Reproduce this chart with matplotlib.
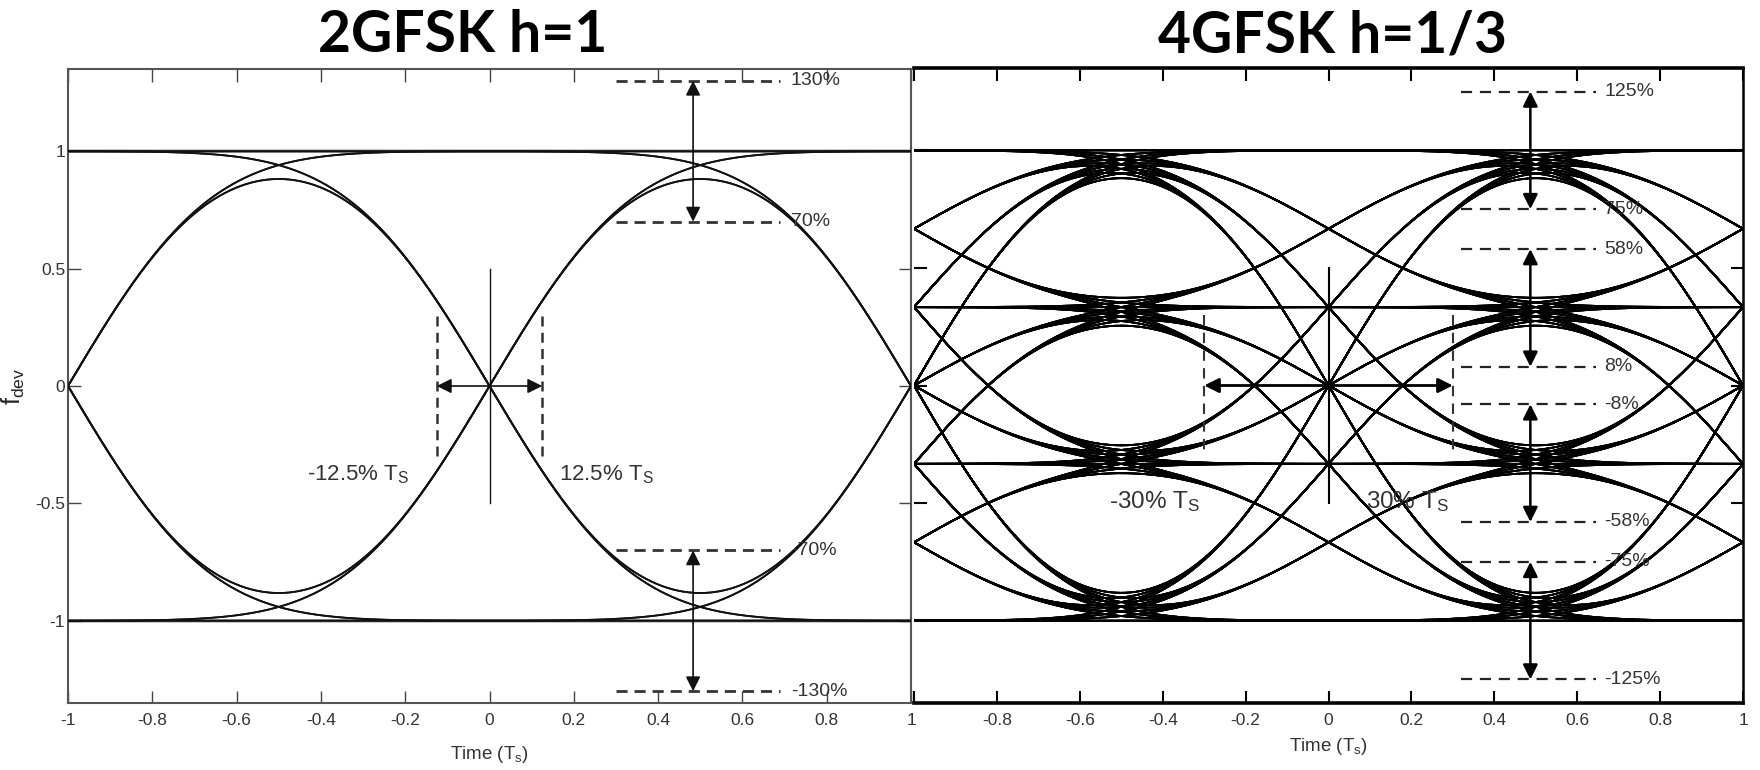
import math
import itertools
import numpy as np
import matplotlib
matplotlib.use('Agg')
import matplotlib.pyplot as plt
from matplotlib import font_manager

# ---------------- data ----------------
titles = ['2GFSK h=1', '4GFSK h=1/3']
bt_product = 0.5
levels_2gfsk = [-1.0, 1.0]
levels_4gfsk = [-1.0, -1.0 / 3, 1.0 / 3, 1.0]
symbol_times = [-1.5, -0.5, 0.5, 1.5]

x_ticks = [-1, -0.8, -0.6, -0.4, -0.2, 0, 0.2, 0.4, 0.6, 0.8, 1]
x_ticklabels = ['-1', '-0.8', '-0.6', '-0.4', '-0.2', '0', '0.2', '0.4', '0.6', '0.8', '1']
x_ticklabels_right = ['', '-0.8', '-0.6', '-0.4', '-0.2', '0', '0.2', '0.4', '0.6', '0.8', '1']
y_ticks = [-1, -0.5, 0, 0.5, 1]
y_ticklabels = ['-1', '-0.5', '0', '0.5', '1']

left_limits = [1.3, 0.7, -0.7, -1.3]
left_limit_labels = ['130%', '70%', '-70%', '-130%']
left_arrow_pairs = [(1.3, 0.7), (-0.7, -1.3)]
left_time_margin = 0.125
left_time_labels = ['-12.5% $T_S$', '12.5% $T_S$']

right_limits = [1.25, 0.75, 0.58, 0.08, -0.08, -0.58, -0.75, -1.25]
right_limit_labels = ['125%', '75%', '58%', '8%', '-8%', '-58%', '-75%', '-125%']
right_arrow_pairs = [(1.25, 0.75), (0.58, 0.08), (-0.08, -0.58), (-0.75, -1.25)]
right_time_margin = 0.3
right_time_labels = ['-30% $T_S$', '30% $T_S$']

# ---------------- fonts ----------------
names = {f.name for f in font_manager.fontManager.ttflist}
NARROW = 'Liberation Sans Narrow' if 'Liberation Sans Narrow' in names else 'Liberation Sans'
SANS = 'Liberation Sans'
TITLE_FONT = 'Lato'
plt.rcParams['font.family'] = [SANS, 'DejaVu Sans']
plt.rcParams['mathtext.default'] = 'regular'
TXT = '#333333'

# ---------------- model (Gaussian filtered symbols) ----------------
t = np.linspace(-1, 1, 801)
sigma = math.sqrt(math.log(2)) / (2 * math.pi * bt_product)
erf = np.vectorize(math.erf)


def pulse(tt):
    k = math.sqrt(2) * sigma
    return 0.5 * (erf((tt + 0.5) / k) - erf((tt - 0.5) / k))


pulses = [pulse(t - s) for s in symbol_times]


def eye_curves(levels):
    out = []
    for seq in itertools.product(levels, repeat=len(symbol_times)):
        y = sum(a * p for a, p in zip(seq, pulses))
        const = len(set(seq)) == 1
        out.append((y, const))
    return out


fig = plt.figure(figsize=(17.6, 7.7), dpi=100)
axL = fig.add_axes([68 / 1760, 67 / 770, 843 / 1760, 634 / 770])
axR = fig.add_axes([914 / 1760, 67 / 770, 829 / 1760, 635 / 770])

# ---------------- left panel ----------------
for y, const in eye_curves(levels_2gfsk):
    if const:
        axL.plot(t, y, color='#5a5a5a', lw=2.2, zorder=2)
    else:
        axL.plot(t, y, color='#111111', lw=1.3, zorder=3)

axL.set_xlim(-1, 1)
axL.set_ylim(-1.35, 1.35)
axL.set_xticks(x_ticks)
axL.set_xticklabels(x_ticklabels)
axL.set_yticks(y_ticks)
axL.set_yticklabels(y_ticklabels)
axL.tick_params(direction='in', length=9, width=1.0, color='#444444', top=True, right=True,
                labelsize=12.5, labelcolor=TXT)
axL.tick_params(axis='x', pad=7)
axL.tick_params(axis='y', pad=2)
for lab in axL.get_xticklabels() + axL.get_yticklabels():
    lab.set_fontfamily(NARROW)
for sp in axL.spines.values():
    sp.set_color('#555555')
    sp.set_linewidth(1.5)
axL.set_xlabel('Time ($T_s$)', fontsize=13.5, color=TXT, family=NARROW, labelpad=12)
axL.set_ylabel('$f_{dev}$', fontsize=18, color='#222222', family=NARROW)
axL.yaxis.set_label_coords(-0.049, 0.5)

# center annotations
axL.plot([0, 0], [0.5, -0.5], color='#111111', lw=1.0)
for sx in (-left_time_margin, left_time_margin):
    axL.plot([sx, sx], [0.3, -0.3], color='#333333', lw=1.8, ls=(0, (4, 2.5)))
axL.annotate('', xy=(-left_time_margin, 0), xytext=(0, 0),
             arrowprops=dict(arrowstyle='-|>', color='#111111', lw=1.2, mutation_scale=22,
                             shrinkA=0, shrinkB=0))
axL.annotate('', xy=(left_time_margin, 0), xytext=(0, 0),
             arrowprops=dict(arrowstyle='-|>', color='#111111', lw=1.2, mutation_scale=22,
                             shrinkA=0, shrinkB=0))
axL.text(-0.19, -0.33, left_time_labels[0], ha='right', va='top', fontsize=16, color=TXT)
axL.text(0.165, -0.33, left_time_labels[1], ha='left', va='top', fontsize=16, color=TXT)

# spec limits
for yv, lab in zip(left_limits, left_limit_labels):
    axL.plot([0.3, 0.69], [yv, yv], color='#333333', lw=2.0, ls=(0, (4, 2.5)))
    axL.text(0.715, yv, lab, ha='left', va='center', fontsize=14, color=TXT, family=NARROW)
for y0, y1 in left_arrow_pairs:
    axL.annotate('', xy=(0.483, y1), xytext=(0.483, y0),
                 arrowprops=dict(arrowstyle='<|-|>', color='#111111', lw=1.2, mutation_scale=22,
                                 shrinkA=0, shrinkB=0))

# ---------------- right panel ----------------
for y, const in eye_curves(levels_4gfsk):
    axR.plot(t, y, color='#000000', lw=1.3 if not const else 1.6, zorder=3)

axR.set_xlim(-1, 1)
axR.set_ylim(-1.35, 1.35)
axR.set_xticks(x_ticks)
axR.set_xticklabels(x_ticklabels_right)
axR.set_yticks(y_ticks)
axR.tick_params(direction='in', length=9, width=1.5, color='#000000', top=True, right=True,
                labelleft=False, labelsize=12.5, labelcolor=TXT)
axR.tick_params(axis='x', pad=7)
for lab in axR.get_xticklabels():
    lab.set_fontfamily(NARROW)
axR.spines['left'].set_visible(False)
for side in ('top', 'bottom'):
    axR.spines[side].set_linewidth(2.6)
axR.spines['right'].set_linewidth(1.8)
axR.set_xlabel('Time ($T_s$)', fontsize=13.5, color=TXT, family=NARROW, labelpad=6)

axR.plot([0, 0], [0.5, -0.5], color='#000000', lw=1.5, zorder=4)
for sx in (-right_time_margin, right_time_margin):
    axR.plot([sx, sx], [0.3, -0.3], color='#333333', lw=1.5, ls=(0, (5, 3.5)), zorder=4)
axR.annotate('', xy=(right_time_margin, 0), xytext=(-right_time_margin, 0),
             arrowprops=dict(arrowstyle='<|-|>', color='#000000', lw=2.0, mutation_scale=22,
                             shrinkA=0, shrinkB=0), zorder=5)
axR.text(-0.31, -0.44, right_time_labels[0], ha='right', va='top', fontsize=17.5, color=TXT, zorder=6)
axR.text(0.29, -0.44, right_time_labels[1], ha='right', va='top', fontsize=17.5, color=TXT, zorder=6)

for yv, lab in zip(right_limits, right_limit_labels):
    axR.plot([0.32, 0.645], [yv, yv], color='#222222', lw=1.6, ls=(0, (5, 3.5)), zorder=4)
    axR.text(0.665, yv, lab, ha='left', va='center', fontsize=14, color=TXT, zorder=6)
for y0, y1 in right_arrow_pairs:
    axR.annotate('', xy=(0.487, y1), xytext=(0.487, y0),
                 arrowprops=dict(arrowstyle='<|-|>', color='#000000', lw=1.8, mutation_scale=22,
                                 shrinkA=0, shrinkB=0), zorder=5)

# ---------------- titles ----------------
fig.text(463 / 1760, 1 - 36 / 770, titles[0], ha='center', va='center', fontsize=41,
         fontweight='bold', family=TITLE_FONT, color='#000000')
fig.text(1332 / 1760, 1 - 36 / 770, titles[1], ha='center', va='center', fontsize=41,
         fontweight='bold', family=TITLE_FONT, color='#000000')

fig.savefig('out.png', dpi=100, facecolor='white')
